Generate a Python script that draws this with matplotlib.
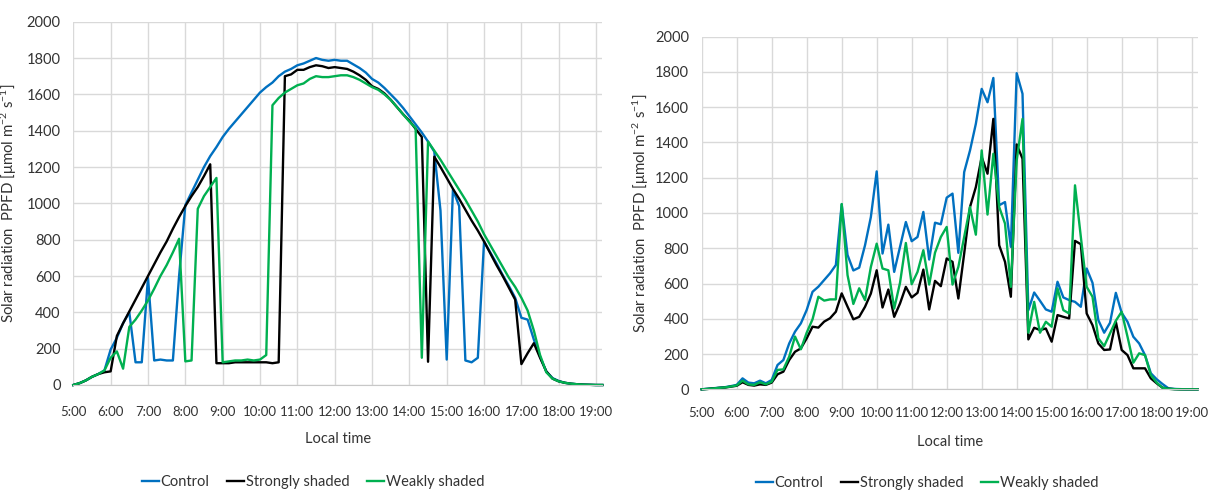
import numpy as np
import matplotlib
matplotlib.use("Agg")
import matplotlib.pyplot as plt
from matplotlib import font_manager

# 10-minute readings, 5:00 .. 19:10
hours = [5, 6, 7, 8, 9, 10, 11, 12, 13, 14, 15, 16, 17, 18, 19]
hour_labels = ["%d:00" % h for h in hours]

# left panel (clear day)
control_a = [0, 10, 25, 45, 60, 80,
             195, 260, 340, 400, 125, 125,
             590, 135, 140, 135, 135, 600,
             990, 1060, 1130, 1200, 1260, 1310,
             1365, 1410, 1450, 1490, 1530, 1570,
             1610, 1640, 1665, 1700, 1725, 1740,
             1760, 1770, 1785, 1800, 1790, 1785,
             1790, 1785, 1785, 1765, 1745, 1720,
             1685, 1665, 1635, 1600, 1565, 1525,
             1480, 1435, 1390, 1340, 1285, 960,
             140, 1075, 985, 135, 125, 150,
             790, 730, 670, 605, 545, 480,
             370, 360, 250, 155, 75, 38,
             22, 12, 7, 4, 2, 1,
             0, 0]
strong_a = [0, 10, 25, 45, 60, 70,
            75, 270, 340, 405, 470, 535,
            600, 665, 730, 790, 860, 925,
            985, 1040, 1090, 1150, 1215, 120,
            120, 120, 125, 125, 125, 125,
            125, 125, 120, 125, 1700, 1710,
            1735, 1735, 1750, 1760, 1755, 1745,
            1750, 1745, 1740, 1725, 1705, 1680,
            1645, 1630, 1605, 1570, 1530, 1490,
            1455, 1410, 1365, 128, 1257, 1200,
            1140, 1080, 1025, 965, 905, 850,
            790, 725, 660, 600, 535, 470,
            115, 175, 230, 150, 75, 35,
            20, 12, 7, 4, 2, 1,
            0, 0]
weak_a = [0, 10, 25, 45, 60, 80,
          150, 185, 90, 320, 360, 410,
          465, 530, 600, 660, 730, 805,
          130, 135, 970, 1040, 1090, 1140,
          125, 130, 135, 135, 140, 135,
          140, 165, 1540, 1580, 1610, 1630,
          1650, 1660, 1685, 1700, 1695, 1695,
          1700, 1705, 1705, 1695, 1680, 1660,
          1640, 1625, 1600, 1570, 1530, 1490,
          1450, 1415, 150, 1340, 1290, 1240,
          1185, 1130, 1075, 1020, 960, 900,
          830, 770, 710, 650, 590, 540,
          480, 410, 300, 165, 70, 35,
          20, 12, 7, 4, 2, 1,
          0, 0]

# right panel (cloudy day)
control_b = [0, 3, 6, 9, 12, 18,
             25, 62, 38, 34, 49, 34,
             53, 138, 166, 260, 327, 374,
             450, 553, 582, 620, 658, 705,
             1049, 762, 674, 690, 817, 977,
             1236, 770, 934, 666, 808, 949,
             840, 864, 1006, 736, 945, 936,
             1087, 1110, 774, 1232, 1355, 1506,
             1704, 1628, 1766, 1044, 1062, 808,
             1793, 1676, 449, 549, 502, 453,
             440, 610, 521, 506, 496, 468,
             685, 604, 392, 321, 377, 547,
             434, 383, 298, 260, 194, 91,
             57, 30, 6, 2, 1, 0,
             0, 0]
strong_b = [0, 2, 5, 8, 10, 15,
            20, 40, 25, 21, 28, 25,
            38, 85, 100, 166, 213, 232,
            289, 355, 350, 384, 403, 440,
            544, 469, 397, 411, 468, 543,
            675, 464, 566, 411, 487, 581,
            521, 547, 679, 453, 615, 585,
            742, 723, 515, 770, 1034, 1147,
            1317, 1223, 1534, 817, 723, 525,
            1389, 1308, 283, 349, 336, 345,
            270, 421, 411, 402, 842, 823,
            430, 364, 260, 223, 226, 383,
            223, 194, 119, 119, 119, 62,
            34, 9, 3, 1, 0, 0,
            0, 0]
weak_b = [0, 2, 5, 8, 11, 16,
          22, 49, 28, 25, 40, 28,
          43, 110, 113, 185, 299, 227,
          321, 397, 525, 503, 510, 510,
          1051, 648, 484, 573, 506, 694,
          826, 685, 675, 458, 604, 830,
          596, 666, 789, 594, 775, 864,
          921, 594, 694, 864, 1034, 877,
          1355, 991, 1336, 1034, 940, 581,
          1298, 1534, 321, 496, 321, 383,
          355, 572, 449, 430, 1157, 864,
          581, 525, 289, 245, 317, 389,
          440, 298, 151, 204, 194, 81,
          38, 9, 3, 1, 0, 0,
          0, 0]

series_names = ["Control", "Strongly shaded", "Weakly shaded"]
colors = ["#0070C0", "#000000", "#00B050"]

names = {f.name for f in font_manager.fontManager.ttflist}
font = "Lato" if "Lato" in names else "DejaVu Sans"
plt.rcParams["font.family"] = [font, "DejaVu Sans"]
plt.rcParams["mathtext.fontset"] = "custom"
plt.rcParams["mathtext.rm"] = font
plt.rcParams["mathtext.it"] = font

fs = 9.5
t = 5 + np.arange(len(control_a)) / 6.0
text_color = "#333333"

fig = plt.figure(figsize=(12.14, 4.91), dpi=100)
ax1 = fig.add_axes([73.3 / 1214, 1 - 385 / 491, 529 / 1214, 363.3 / 491])
ax2 = fig.add_axes([701.7 / 1214, 1 - 389.3 / 491, 495.8 / 1214, 352.6 / 491])


def style(ax, xpad):
    ax.set_xlim(5, 5 + 85 / 6.0)
    ax.set_ylim(0, 2000)
    ax.set_xticks(hours)
    ax.set_xticklabels(hour_labels)
    ax.set_yticks(range(0, 2001, 200))
    ax.grid(True, color="#d9d9d9", lw=1)
    ax.set_axisbelow(True)
    for s in ["top", "right", "left"]:
        ax.spines[s].set_visible(False)
    ax.spines["bottom"].set_color("#c8c8c8")
    ax.tick_params(axis="x", length=0, pad=xpad, labelsize=fs, colors=text_color)
    ax.tick_params(axis="y", length=0, pad=9, labelsize=10.5, colors=text_color)
    ax.set_ylabel("Solar radiation  PPFD [\u03bcmol m$^{-2}$ s$^{-1}$]",
                  fontsize=10.8, color=text_color)
    ax.yaxis.set_label_coords(-0.102, 0.5)
    ax.text(0.5, -0.15, "Local time", transform=ax.transAxes, ha="center",
            va="center", fontsize=10.5, color=text_color)


for ax, data, xpad in [(ax1, [control_a, strong_a, weak_a], 15),
                       (ax2, [control_b, strong_b, weak_b], 13)]:
    for vals, c, n in zip(data, colors, series_names):
        ax.plot(t, vals, color=c, lw=1.7, label=n, clip_on=False)
    style(ax, xpad)

for ax, cx, cy in [(ax1, 313, 482), (ax2, 927, 483)]:
    h, l = ax.get_legend_handles_labels()
    fig.legend(h, l, loc="center", bbox_to_anchor=(cx / 1214, 1 - cy / 491),
               ncol=3, frameon=False, fontsize=10.5, handlelength=1.2,
               handletextpad=0.1, columnspacing=1.2, labelcolor=text_color)

fig.savefig("out.png", dpi=100)
